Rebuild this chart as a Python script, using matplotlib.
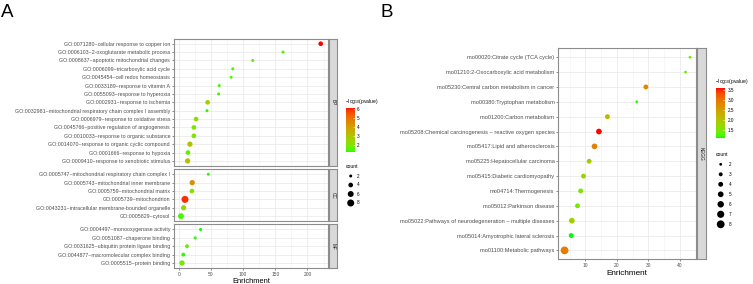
import numpy as np
import matplotlib
matplotlib.use("Agg")
import matplotlib.pyplot as plt
from matplotlib.colors import ListedColormap, Normalize
from matplotlib.cm import ScalarMappable

W, H, DPI = 753, 284, 100

plt.rcParams.update({
    "font.family": ["Liberation Sans", "DejaVu Sans"],
    "mathtext.default": "regular",
    "axes.unicode_minus": True,
})

# ---- panel A: GO enrichment (top to bottom within each facet) ----
bp_terms = [
    "GO:0071280~cellular response to copper ion",
    "GO:0006103~2-oxoglutarate metabolic process",
    "GO:0008637~apoptotic mitochondrial changes",
    "GO:0006099~tricarboxylic acid cycle",
    "GO:0045454~cell redox homeostasis",
    "GO:0033189~response to vitamin A",
    "GO:0055093~response to hyperoxia",
    "GO:0002931~response to ischemia",
    "GO:0032981~mitochondrial respiratory chain complex I assembly",
    "GO:0006979~response to oxidative stress",
    "GO:0045766~positive regulation of angiogenesis",
    "GO:0010033~response to organic substance",
    "GO:0014070~response to organic cyclic compound",
    "GO:0001666~response to hypoxia",
    "GO:0009410~response to xenobiotic stimulus",
]
bp_enrich = [220.6, 162, 115, 84, 81.5, 63, 62, 45, 44, 27, 23.6, 23.6, 17.5, 14.4, 13.9]
bp_logp = [6.2, 1.5, 1.5, 1.5, 1.5, 1.4, 1.4, 2.8, 1.3, 2.3, 2.1, 2.1, 3.1, 1.7, 3.2]
bp_count = [4, 2, 2, 2, 2, 2, 2, 4, 2, 4, 4, 4, 5, 4, 5]

cc_terms = [
    "GO:0005747~mitochondrial respiratory chain complex I",
    "GO:0005743~mitochondrial inner membrane",
    "GO:0005759~mitochondrial matrix",
    "GO:0005739~mitochondrion",
    "GO:0043231~intracellular membrane-bounded organelle",
    "GO:0005829~cytosol",
]
cc_enrich = [46, 21, 20.6, 9.8, 7.7, 3.6]
cc_logp = [1.3, 4.4, 2.2, 6.0, 2.5, 1.5]
cc_count = [2, 5, 4, 8, 5, 6]

mf_terms = [
    "GO:0004497~monooxygenase activity",
    "GO:0051087~chaperone binding",
    "GO:0031625~ubiquitin protein ligase binding",
    "GO:0044877~macromolecular complex binding",
    "GO:0005515~protein binding",
]
mf_enrich = [34, 25.7, 12.9, 7.2, 5.2]
mf_logp = [1.22, 1.3, 1.8, 1.35, 1.9]
mf_count = [2, 2, 3, 3, 5]

# ---- panel B: KEGG ----
kegg_terms = [
    "mo00020:Citrate cycle (TCA cycle)",
    "mo01210:2-Oxocarboxylic acid metabolism",
    "mo05230:Central carbon metabolism in cancer",
    "mo00380:Tryptophan metabolism",
    "mo01200:Carbon metabolism",
    "mo05208:Chemical carcinogenesis \u2013 reactive oxygen species",
    "mo05417:Lipid and atherosclerosis",
    "mo05225:Hepatocellular carcinoma",
    "mo05415:Diabetic cardiomyopathy",
    "mo04714:Thermogenesis",
    "mo05012:Parkinson disease",
    "mo05022:Pathways of neurodegeneration \u2013 multiple diseases",
    "mo05014:Amyotrophic lateral sclerosis",
    "mo01100:Metabolic pathways",
]
kegg_enrich = [43.2, 41.8, 29.2, 26.3, 17.0, 14.3, 12.9, 11.2, 9.4, 8.5, 7.5, 5.7, 5.5, 3.4]
kegg_logp = [1.4, 1.35, 2.8, 1.15, 2.2, 3.58, 2.85, 1.9, 1.75, 1.5, 1.45, 1.85, 1.11, 2.9]
kegg_count = [2, 2, 4, 2, 4, 5, 5, 4, 4, 4, 4, 5, 4, 8]

count_breaks_a = [2, 4, 6, 8]
count_breaks_b = [2, 3, 4, 5, 6, 7, 8]


def lab_to_rgb(L, a, b):
    fy = (L + 16) / 116
    fx = fy + a / 500
    fz = fy - b / 200
    def finv(t):
        return np.where(t > 6 / 29, t ** 3, 3 * (6 / 29) ** 2 * (t - 4 / 29))
    xyz = np.stack([0.95047 * finv(fx), finv(fy), 1.08883 * finv(fz)], axis=-1)
    m = np.array([[3.2406, -1.5372, -0.4986],
                  [-0.9689, 1.8758, 0.0415],
                  [0.0557, -0.2040, 1.0570]])
    rgb = xyz @ m.T
    rgb = np.where(rgb > 0.0031308, 1.055 * np.clip(rgb, 0, None) ** (1 / 2.4) - 0.055, 12.92 * rgb)
    return np.clip(rgb, 0, 1)


# ggplot-style green -> red gradient, interpolated in Lab
t = np.linspace(0, 1, 256)
green_lab = np.array([87.73, -86.18, 83.18])
red_lab = np.array([53.24, 80.09, 67.20])
lab = green_lab[None, :] * (1 - t[:, None]) + red_lab[None, :] * t[:, None]
CMAP = ListedColormap(lab_to_rgb(lab[:, 0], lab[:, 1], lab[:, 2]))


def dot_size(counts, dmin, dmax, cmin=2, cmax=8):
    c = np.sqrt(np.asarray(counts, float))
    d = dmin + (c - np.sqrt(cmin)) / (np.sqrt(cmax) - np.sqrt(cmin)) * (dmax - dmin)
    return (d * 72 / DPI) ** 2


def px_box(x0, y0, x1, y1):
    return [x0 / W, 1 - y1 / H, (x1 - x0) / W, (y1 - y0) / H]


BORDER = "#8c8c8c"


def draw_facet(ax, terms, enrich, logp, count, norm, dsize, xlim, xmajor, xminor,
               fs, show_x):
    y = np.arange(len(terms))[::-1]
    ax.scatter(enrich, y, s=dot_size(count, *dsize), c=logp, cmap=CMAP, norm=norm,
               edgecolors="none", zorder=3, clip_on=False)
    ax.set_yticks(y)
    ax.set_yticklabels(terms, fontsize=fs, color="#4d4d4d")
    ax.set_ylim(-0.6, len(terms) - 0.4)
    ax.set_xlim(*xlim)
    ax.set_xticks(xmajor)
    ax.set_xticks(xminor, minor=True)
    ax.grid(True, which="major", color="#ebebeb", lw=0.6, zorder=0)
    ax.grid(True, which="minor", axis="x", color="#f2f2f2", lw=0.4, zorder=0)
    ax.set_axisbelow(True)
    for sp in ax.spines.values():
        sp.set_color(BORDER)
        sp.set_linewidth(0.8)
    ax.tick_params(axis="both", which="major", length=1.6, width=0.4, color="#333333",
                   pad=1.2)
    ax.tick_params(axis="x", which="minor", length=0)
    if show_x:
        ax.tick_params(axis="x", labelsize=3.5, labelcolor="#4d4d4d")
    else:
        ax.tick_params(axis="x", which="both", length=0, labelbottom=False)


def draw_strip(fig, box, label, fs):
    sax = fig.add_axes(box)
    sax.set_facecolor("#d9d9d9")
    sax.set_xticks([])
    sax.set_yticks([])
    for sp in sax.spines.values():
        sp.set_color(BORDER)
        sp.set_linewidth(0.8)
    sax.text(0.5, 0.5, label, rotation=-90, ha="center", va="center",
             fontsize=fs, color="#1a1a1a", transform=sax.transAxes)


def expand(vals):
    lo, hi = min(vals), max(vals)
    pad = 0.05 * (hi - lo)
    return lo - pad, hi + pad


fig = plt.figure(figsize=(W / DPI, H / DPI), dpi=DPI)

# overlay in pixel coordinates for the hand-built size legends
ov = fig.add_axes([0, 0, 1, 1])
ov.set_xlim(0, W)
ov.set_ylim(H, 0)
ov.axis("off")

# ---------------- panel A ----------------
all_a_enrich = bp_enrich + cc_enrich + mf_enrich
all_a_logp = bp_logp + cc_logp + mf_logp
norm_a = Normalize(min(all_a_logp), max(all_a_logp))
xlim_a = expand(all_a_enrich)
dsize_a = (3.0, 7.0)

facets_a = [
    ("BP", bp_terms, bp_enrich, bp_logp, bp_count),
    ("CC", cc_terms, cc_enrich, cc_logp, cc_count),
    ("MF", mf_terms, mf_enrich, mf_logp, mf_count),
]
top, bottom, gap = 38.7, 268.0, 3.3
unit = (bottom - top - 2 * gap) / sum(len(f[1]) + 0.2 for f in facets_a)
y0 = top
for i, (lab_, terms, en, lp, cnt) in enumerate(facets_a):
    y1 = y0 + (len(terms) + 0.2) * unit
    ax = fig.add_axes(px_box(174, y0, 327.7, y1))
    draw_facet(ax, terms, en, lp, cnt, norm_a, dsize_a, xlim_a,
               [0, 50, 100, 150, 200], [25, 75, 125, 175, 225], 3.75,
               show_x=(i == len(facets_a) - 1))
    if i == len(facets_a) - 1:
        ax.set_xlabel("Enrichment", fontsize=5.4, labelpad=1.0)
    draw_strip(fig, px_box(329, y0, 337, y1), lab_, 3.4)
    y0 = y1 + gap

fig.text(1 / W, 1 - 4 / H, "A", fontsize=13.5, ha="left", va="top")

# colour bar A
ov.text(345.5, 101, "\u2212log$_{10}$(pvalue)", fontsize=3.6, ha="left", va="center")
cax = fig.add_axes(px_box(346, 107.7, 354.7, 152.3))
cb = fig.colorbar(ScalarMappable(norm=norm_a, cmap=CMAP), cax=cax, ticks=[2, 3, 4, 5, 6])
cb.outline.set_visible(False)
cax.tick_params(length=1.6, width=0.4, color="white", direction="in", labelsize=3.3, pad=1.5)

# size legend A
ov.text(345.5, 166.7, "count", fontsize=3.6, ha="left", va="center")
leg_y = 176 + 9 * np.arange(len(count_breaks_a))
ov.scatter([350.7] * len(count_breaks_a), leg_y, s=dot_size(count_breaks_a, *dsize_a),
           c="black", edgecolors="none")
for yy, c in zip(leg_y, count_breaks_a):
    ov.text(357, yy, str(c), fontsize=3.3, ha="left", va="center")

# ---------------- panel B ----------------
norm_b = Normalize(min(kegg_logp), max(kegg_logp))
dsize_b = (2.8, 7.8)
axb = fig.add_axes(px_box(558.3, 48.3, 696.3, 259.3))
draw_facet(axb, kegg_terms, kegg_enrich, kegg_logp, kegg_count, norm_b, dsize_b,
           expand(kegg_enrich), [10, 20, 30, 40], [5, 15, 25, 35, 45], 4.1, show_x=True)
axb.set_xlabel("Enrichment", fontsize=5.9, labelpad=1.0)
draw_strip(fig, px_box(697, 48.3, 705.7, 259.3), "KEGG", 3.4)

fig.text(380 / W, 1 - 4 / H, "B", fontsize=13.5, ha="left", va="top")

ov.text(715.5, 81.7, "\u2212log$_{10}$(pvalue)", fontsize=3.6, ha="left", va="center")
caxb = fig.add_axes(px_box(715.7, 88.3, 725.3, 137.7))
cbb = fig.colorbar(ScalarMappable(norm=norm_b, cmap=CMAP), cax=caxb,
                   ticks=[1.5, 2.0, 2.5, 3.0, 3.5], format="%.1f")
cbb.outline.set_visible(False)
caxb.tick_params(length=1.6, width=0.4, color="white", direction="in", labelsize=3.3, pad=1.5)

ov.text(715.5, 154.3, "count", fontsize=3.6, ha="left", va="center")
leg_yb = 164.3 + 10 * np.arange(len(count_breaks_b))
ov.scatter([720.7] * len(count_breaks_b), leg_yb, s=dot_size(count_breaks_b, *dsize_b),
           c="black", edgecolors="none")
for yy, c in zip(leg_yb, count_breaks_b):
    ov.text(728.5, yy, str(c), fontsize=3.3, ha="left", va="center")

fig.savefig("out.png", dpi=DPI)
